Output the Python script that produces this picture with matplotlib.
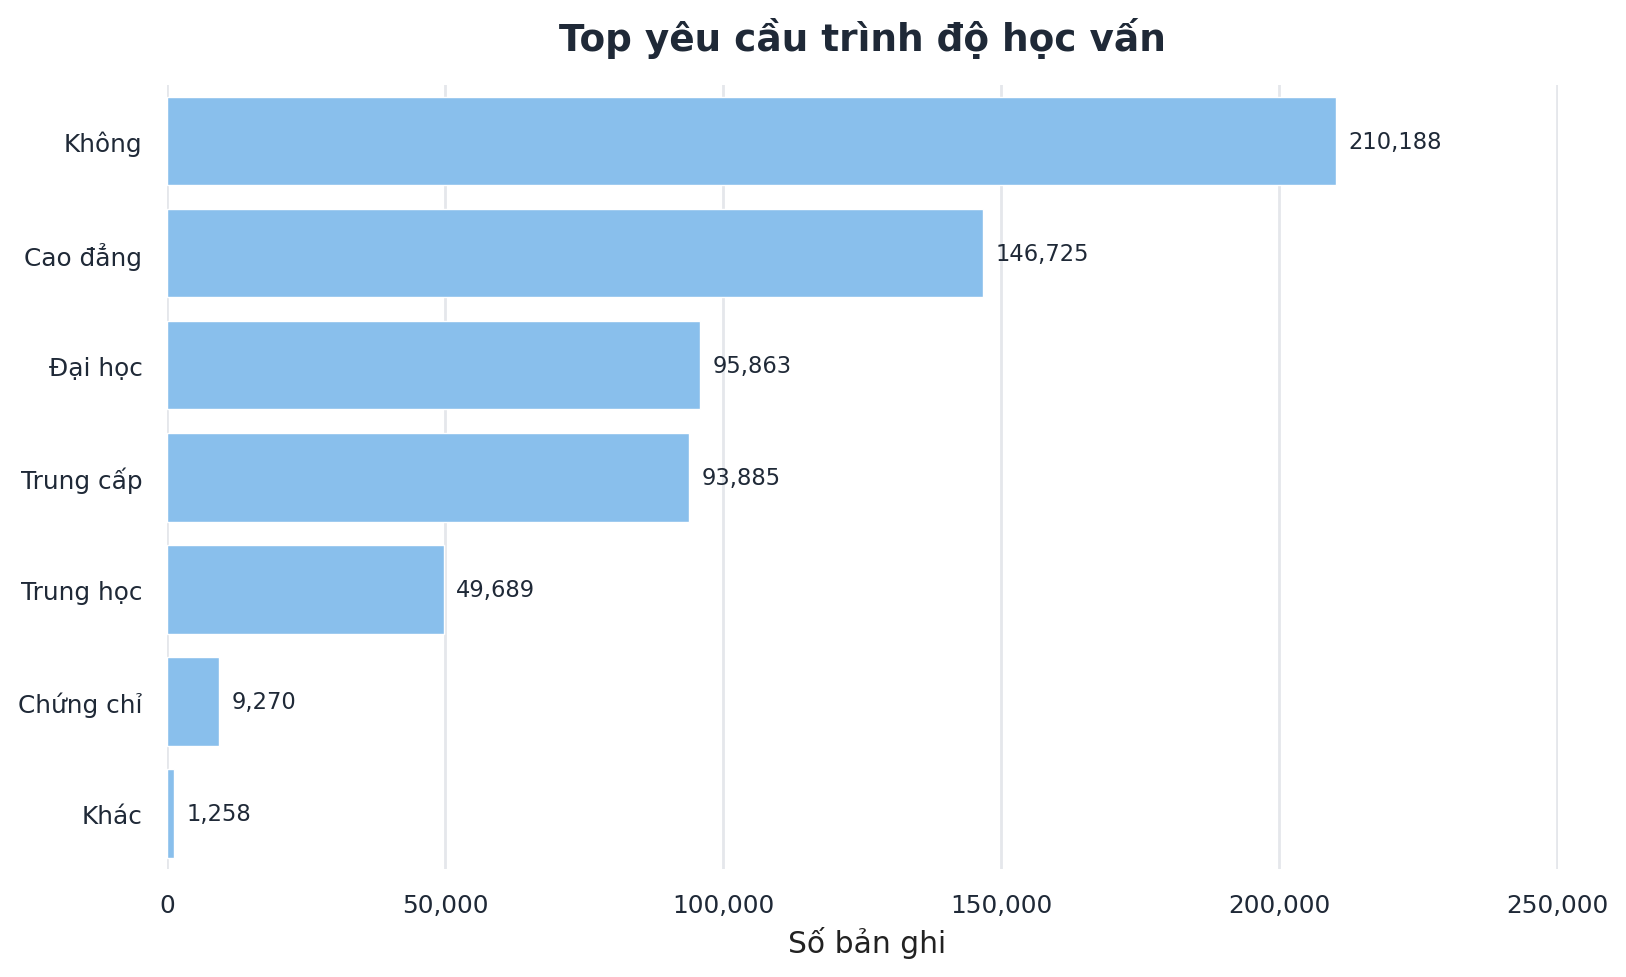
import matplotlib
matplotlib.use("Agg")
from matplotlib import pyplot as plt
from matplotlib.ticker import FuncFormatter

# data
levels = ["Không", "Cao đẳng", "Đại học", "Trung cấp", "Trung học", "Chứng chỉ", "Khác"]
counts = [210188, 146725, 95863, 93885, 49689, 9270, 1258]

dark = "#1f2937"
bar_color = "#89bfec"
grid_color = "#e5e7eb"

fig, ax = plt.subplots(figsize=(16.26, 9.78), dpi=100)
fig.subplots_adjust(left=0.1030, right=0.958, top=0.912, bottom=0.110)

pos = list(range(len(levels)))
ax.barh(pos, counts, height=0.79, color=bar_color, edgecolor="white", linewidth=1, zorder=2)
ax.set_yticks(pos)
ax.set_yticklabels(levels)
ax.set_ylim(len(levels) - 0.5, -0.5)

max_count = max(counts)
ax.set_xlim(0, max_count * 1.19)
ax.set_xticks([0, 50000, 100000, 150000, 200000, 250000])
ax.xaxis.set_major_formatter(FuncFormatter(lambda v, p: f"{int(v):,}"))

for i, v in enumerate(counts):
    ax.text(v + max_count * 0.0105, i, f"{v:,}", va="center", ha="left",
            fontsize=16.3, color=dark)

ax.grid(axis="x", color=grid_color, linewidth=2, zorder=0)
ax.grid(axis="y", visible=False)
ax.set_axisbelow(True)
for s in ax.spines.values():
    s.set_visible(False)

ax.tick_params(axis="x", length=0, pad=17, labelsize=17.8, colors=dark)
ax.tick_params(axis="y", length=0, pad=18, labelsize=17.8, colors=dark)
ax.set_title("Top yêu cầu trình độ học vấn", fontsize=26.9, fontweight="bold",
             color=dark, pad=25)
ax.set_xlabel("Số bản ghi", fontsize=21.4, color="#222222")
ax.xaxis.set_label_coords(0.503, -0.072)

fig.savefig("out.png", dpi=100, facecolor="white")
